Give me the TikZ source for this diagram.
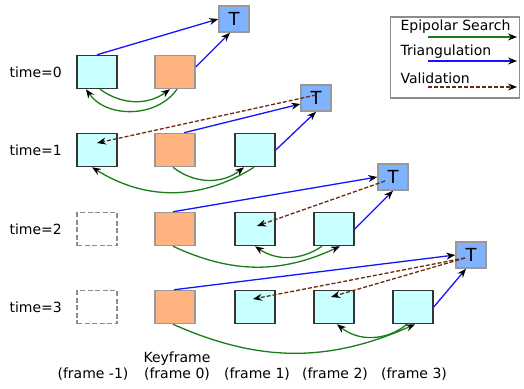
\documentclass[tikz,border=0pt]{standalone}
\usepackage{fontspec}
\setmainfont{DejaVu Sans}
\usetikzlibrary{arrows.meta}
\definecolor{cyanbox}{RGB}{200,255,255}
\definecolor{keyorange}{RGB}{255,179,128}
\definecolor{tblue}{RGB}{128,179,255}
\definecolor{searchgreen}{RGB}{25,125,25}
\definecolor{triblue}{RGB}{20,20,255}
\definecolor{validbrown}{RGB}{110,40,10}

\begin{document}
\begin{tikzpicture}[x=1pt, y=-1pt, font=\fontsize{14}{16}\selectfont,
      framebox/.style={rectangle, draw=black!80, fill=cyanbox, line width=1.5pt,
        minimum width=40pt, minimum height=33pt, inner sep=0pt},
      keybox/.style={framebox, draw=black!40, fill=keyorange},
      missing/.style={framebox, draw=black!45, fill=white, dash pattern=on 5pt off 2.5pt},
      tribox/.style={rectangle, draw=black!40, fill=tblue, line width=1.5pt,
        minimum width=30pt, minimum height=26pt, inner sep=0pt, font=\fontsize{18}{20}\selectfont},
      search/.style={searchgreen, line width=1.3pt, -{Stealth[black,length=9pt,width=7pt,inset=3pt]}},
      triang/.style={triblue, line width=1.3pt, -{Stealth[black,length=9pt,width=7pt,inset=3pt]}},
      valid/.style={validbrown, line width=1.3pt, dash pattern=on 4pt off 2pt,
        -{Stealth[black,length=9pt,width=7pt,inset=3pt]}}]
      \useasboundingbox (0,0) rectangle (524,388);

      % time=0
      \node[anchor=west](lab0) at (6,72){time=0};
      \node[framebox](prev0) at (97,72){};
      \node[keybox](key0) at (175,72){};
      \node[tribox](T0) at (234,19){T};
      \draw[triang] (prev0.north) -- (T0.west);
      \draw[triang] ([yshift=5pt]key0.east) -- ([xshift=-4pt]T0.south);
      \draw[search] ([xshift=3pt]prev0.south) to[bend right=36] ([xshift=-5pt]key0.south);
      \draw[search] ([xshift=2pt]key0.south) to[bend left=55] ([xshift=-11pt]prev0.south);

      % time=1
      \node[anchor=west](lab1) at (6,150){time=1};
      \node[framebox](prev1) at (97,150){};
      \node[keybox](key1) at (175,150){};
      \node[framebox](one1) at (255,150){};
      \node[tribox](T1) at (316,98){T};
      \draw[triang] ([xshift=9pt]key1.north) -- ([yshift=-6pt]T1.west);
      \draw[triang] (one1.east) -- (T1.south);
      \draw[search] ([xshift=-2pt]key1.south) to[bend right=38] ([xshift=-11pt]one1.south);
      \draw[search] ([xshift=-1pt]one1.south) to[bend left=32] ([xshift=-5pt]prev1.south);
      \draw[valid] ([yshift=3pt]T1.center) -- ([yshift=7pt]prev1.center);

      % time=2
      \node[anchor=west](lab2) at (6,229){time=2};
      \node[missing](prev2) at (97,229){};
      \node[keybox](key2) at (175,229){};
      \node[framebox](one2) at (255,229){};
      \node[framebox](two2) at (334,229){};
      \node[tribox](T2) at (393,177){T};
      \draw[triang] ([xshift=-2pt]key2.north) -- (T2.west);
      \draw[triang] (two2.east) -- (T2.south);
      \draw[search] ([xshift=-12pt]two2.south) to[bend left=34] (one2.south);
      \draw[search] ([xshift=-2pt]key2.south) to[bend right=25] ([xshift=6pt]two2.south);
      \draw[valid] ([xshift=-8pt,yshift=-4pt]T2.center) -- ([xshift=2pt,yshift=3pt]one2.center);

      % time=3
      \node[anchor=west](lab3) at (6,307){time=3};
      \node[missing](prev3) at (97,307){};
      \node[keybox](key3) at (175,307){};
      \node[framebox](one3) at (255,307){};
      \node[framebox](two3) at (334,307){};
      \node[framebox](three3) at (413,307){};
      \node[tribox](T3) at (471,255){T};
      \draw[triang] ([xshift=-1pt]key3.north) -- (T3.west);
      \draw[triang] (three3.east) -- ([xshift=-5pt]T3.south);
      \draw[search] ([xshift=-6pt]three3.south) to[bend left=39] ([xshift=3pt]two3.south);
      \draw[search] ([xshift=-2pt]key3.south) to[bend right=24] ([xshift=2pt]three3.south);
      \draw[valid] ([xshift=-6pt,yshift=-3pt]T3.center) -- ([xshift=-2pt,yshift=8pt]one3.center);
      \draw[valid] ([xshift=-6pt,yshift=-3pt]T3.center) -- ([xshift=-3pt,yshift=10pt]two3.center);

      % frame names
      \node(nprev) at (93,374){(frame -1)};
      \node(nkeyword) at (177,359){Keyframe};
      \node(nkey) at (177,374){(frame 0)};
      \node(none) at (257,374){(frame 1)};
      \node(ntwo) at (335,374){(frame 2)};
      \node(nthree) at (414,374){(frame 3)};

      % legend
      \node[draw=black!45, line width=1.5pt, minimum width=129pt, minimum height=81pt](legend) at (455,57.5){};
      \node[anchor=west](lsearch) at (397,27){Epipolar Search};
      \node[anchor=west](ltriang) at (397,52){Triangulation};
      \node[anchor=west](lvalid) at (397,78){Validation};
      \coordinate(sa) at (428,37); \coordinate(sb) at (517,37);
      \coordinate(ta) at (428,61); \coordinate(tb) at (517,61);
      \coordinate(va) at (428,87); \coordinate(vb) at (517,87);
      \draw[search] (sa) -- (sb);
      \draw[triang] (ta) -- (tb);
      \draw[valid] (va) -- (vb);
    \end{tikzpicture}
\end{document}
